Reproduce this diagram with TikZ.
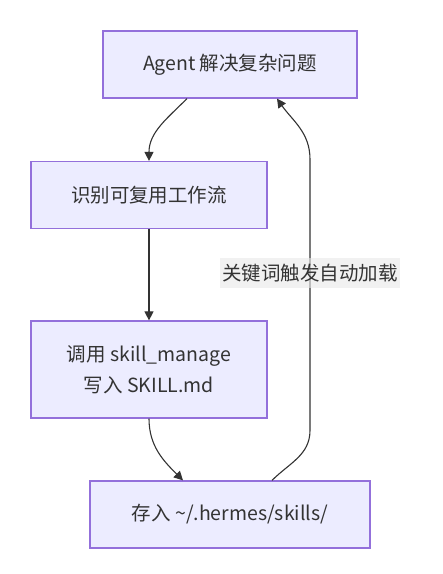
\documentclass[tikz,border=0pt]{standalone}
\usepackage{fontspec}
\setmainfont{Noto Sans CJK SC}
\usetikzlibrary{calc, arrows.meta}
\definecolor{boxfill}{HTML}{ECECFF}
\definecolor{boxline}{HTML}{9370DB}
\definecolor{ink}{HTML}{333333}
\definecolor{lblbg}{HTML}{E8E8E8}

\begin{document}
\begin{tikzpicture}[x=1pt, y=1pt,
	stepbox/.style={draw=boxline, fill=boxfill, line width=1.2pt, text=ink, minimum height=67pt, inner sep=0pt, align=center, font=\fontsize{19.5}{31}\selectfont},
	lbl/.style={fill=lblbg, fill opacity=0.6, text opacity=1, text=ink, minimum height=30pt, inner xsep=2pt, inner ysep=0pt, font=\fontsize{19.5}{24}\selectfont},
	flow/.style={->, draw=ink, line width=1.1pt},
	>={Triangle[length=9pt, width=9pt]},
	node distance=130.5pt,
	]
	\useasboundingbox (0,0) rectangle (443,574);

	\node[stepbox, minimum width=254pt] (agent) at (230,509.5) {Agent 解决复杂问题};
	\node[stepbox, minimum width=236pt, below of=agent, xshift=-81pt] (task) {识别可复用工作流};
	\node[stepbox, minimum width=236pt, minimum height=97pt, below of=task, node distance=174.5pt] (write) {调用 skill\_manage\\写入 SKILL.md};
	\node[stepbox, minimum width=280pt, below of=agent, node distance=450pt] (store) {存入 \textasciitilde/.hermes/skills/};

	\draw[flow] ([xshift=-43pt]agent.south) to[out=-135, in=90] (task.north);
	\draw[flow] (task) -- (write);
	\draw[flow] (write.south) to[out=-90, in=135] ([xshift=-47pt]store.north);
	\draw[flow] ([xshift=42pt]store.north) to[out=45, in=-90] ++(38pt,50pt)
		-- node[lbl, pos=0.58]{关键词触发自动加载} ++(0,271pt)
		to[out=90, in=-55] ([xshift=47pt]agent.south);

      \end{tikzpicture}
\end{document}
